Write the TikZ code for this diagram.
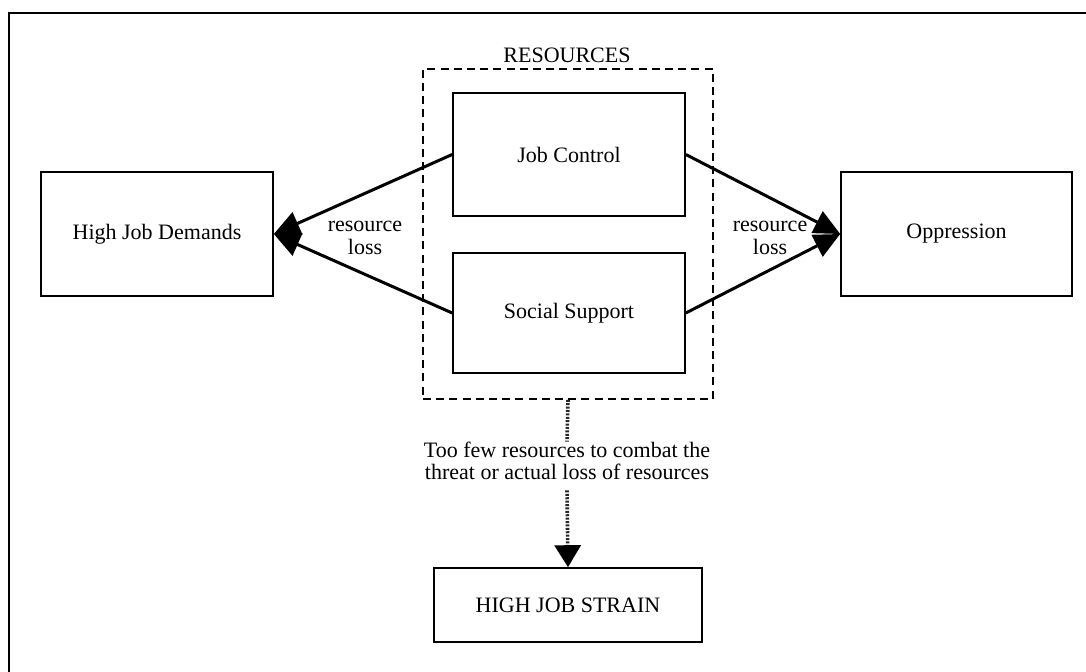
\documentclass[tikz,border=0pt]{standalone}
\usepackage{fontspec}
\setmainfont{Liberation Serif}
\usetikzlibrary{arrows.meta}
\begin{document}
\begin{tikzpicture}[x=0.5pt,y=-0.5pt,
  box/.style={draw, line width=0.8pt, inner sep=0pt, align=center, font=\fontsize{11}{11.2}\selectfont},
  lbl/.style={align=center, font=\fontsize{11}{11.2}\selectfont, inner sep=0pt},
  conn/.style={line width=1.5pt, -{Triangle[length=13pt,width=12pt]}},
  resbox/.style={draw, line width=0.8pt, dash pattern=on 4pt off 2.6pt, minimum width=145pt, minimum height=165pt, inner sep=0pt},
  dotline/.style={line width=1.8pt, dash pattern=on 1pt off 0.7pt, black!85}
]
\useasboundingbox (0,0) rectangle (1086,672);
\coordinate (fbl) at (9,672);
\coordinate (ftl) at (9,13);
\coordinate (ftr) at (1086,13);
\draw[line width=1.1pt] (fbl) -- (ftl) -- (ftr);

\node[resbox] (res) at (568,234) {};
\node[lbl] (reslbl) at (567,55) {RESOURCES};

\node[box, minimum width=116pt, minimum height=62pt] (hjd) at (157,234) {High Job Demands};
\node[box, minimum width=116pt, minimum height=61.5pt] (jc) at (569,154.5) {Job Control};
\node[box, minimum width=116pt, minimum height=60pt] (ss) at (569,313) {Social Support};
\node[box, minimum width=115.5pt, minimum height=62pt] (opp) at (956.5,234) {Oppression};
\node[box, minimum width=134pt, minimum height=37pt] (hjs) at (568,605) {HIGH JOB STRAIN};

\node[lbl] (rl1) at (365,238) {resource\\loss};
\node[lbl] (rl2) at (770,238) {resource\\loss};
\node[lbl] (txt) at (567,461) {Too few resources to combat the\\threat or actual loss of resources};

\draw[conn] (jc.west) -- (hjd.east);
\draw[conn] (ss.west) -- (hjd.east);
\draw[conn] (jc.east) -- (opp.west);
\draw[conn] (ss.east) -- (opp.west);

\draw[dotline] (res.south) -- (txt.north);
\draw[dotline, -{Triangle[length=11pt,width=13pt,fill=black,color=black]}] ([yshift=-5pt]txt.south) -- (hjs.north);
\end{tikzpicture}
\end{document}
